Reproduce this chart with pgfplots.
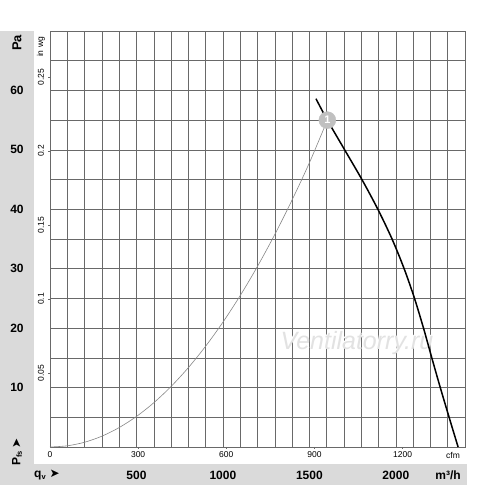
\documentclass[border=0pt]{standalone}
\usepackage{pgfplots}
\pgfplotsset{compat=1.18}
\usepackage{fontspec}
\setmainfont{Liberation Sans}
\newfontfamily\dejavu{DejaVu Sans}
\definecolor{band}{RGB}{218,218,218}
\definecolor{gridc}{RGB}{105,105,105}
\definecolor{syscurve}{RGB}{135,135,135}
\definecolor{pointc}{RGB}{192,192,192}
\definecolor{wm}{RGB}{226,226,226}
\newcommand{\fs}[1]{\fontsize{#1}{#1}\selectfont}
\begin{document}
\begin{tikzpicture}[x=1bp,y=1bp]
\useasboundingbox (0,0) rectangle (500,485);
% grey bands for the Pa and m3/h scales
\fill[band] (0,0) rectangle (34,454);
\fill[band] (0,0) rectangle (467,21);

\begin{axis}[
    at={(50bp,38bp)}, anchor=south west,
    scale only axis, width=415bp, height=416bp,
    xmin=0, xmax=2400, ymin=0, ymax=70,
    xtick={0,100,...,2400}, ytick={0,5,...,70},
    xticklabels={}, yticklabels={},
    major tick length=0pt,
    grid=major,
    major grid style={gridc, line width=0.5bp},
    axis line style={gridc, line width=0.5bp},
    clip=false,
  ]

  % watermark
  \node[font=\itshape\fs{25bp}, text=white] at ([xshift=-0.8bp,yshift=0.8bp]axis cs:1775,17.5) {Ventilatorry.ru};
  \node[font=\itshape\fs{25bp}, text=wm] at (axis cs:1775,17.5) {Ventilatorry.ru};

  % system curve
  \addplot[syscurve, line width=0.6bp, smooth] coordinates {
      (0,0) (100,0.2) (200,0.8) (300,1.82) (400,3.27) (500,5.14)
      (600,7.44) (700,10.18) (800,13.35) (900,16.96) (1000,21.0)
      (1100,25.48) (1200,30.4) (1300,35.76) (1400,41.57)
      (1500,47.82) (1604,55)
    };

  % fan curve
  \addplot[black, line width=1.5bp, smooth] coordinates {
      (1538,58.6) (1604,55) (1704,50) (1804,45) (1896,40)
      (1978,35) (2048,30) (2108,25) (2160,20) (2208,15)
      (2257,10) (2308,5) (2360,0)
    };

  % operating point 1
  \addplot[only marks, mark=*, mark size=8.5bp, color=pointc,
    nodes near coords={1},
    nodes near coords style={anchor=center, text=white, font=\bfseries\fs{11bp}},
  ] coordinates {(1604,55)};

  % Pa labels
  \pgfplotsinvokeforeach{10,20,30,40,50,60}{
    \node[font=\bfseries\fs{12bp}] at ([xshift=-33bp]axis cs:0,#1) {#1};
  }
  % m3/h labels
  \pgfplotsinvokeforeach{500,1000,1500,2000}{
    \node[font=\bfseries\fs{12bp}] at ([yshift=-28bp]axis cs:#1,0) {#1};
  }
  \node[font=\bfseries\fs{12bp}] at ([yshift=-28bp]axis cs:2302,0) {m³/h};

  % cfm scale
  \node[font=\fs{8.5bp}] at ([yshift=-8bp]axis cs:0,0) {0};
  \node[font=\fs{8.5bp}] at ([yshift=-8bp]axis cs:509.7,0) {300};
  \node[font=\fs{8.5bp}] at ([yshift=-8bp]axis cs:1019.4,0) {600};
  \node[font=\fs{8.5bp}] at ([yshift=-8bp]axis cs:1529.1,0) {900};
  \node[font=\fs{8.5bp}] at ([yshift=-8bp]axis cs:2038.8,0) {1200};
  \node[font=\fs{8.5bp}] at ([yshift=-8bp]axis cs:2331,0) {cfm};
  \draw[gridc, line width=0.5bp] (axis cs:509.7,0) -- ++(0,-2.5bp);
  \draw[gridc, line width=0.5bp] (axis cs:1019.4,0) -- ++(0,-2.5bp);
  \draw[gridc, line width=0.5bp] (axis cs:1529.1,0) -- ++(0,-2.5bp);
  \draw[gridc, line width=0.5bp] (axis cs:2038.8,0) -- ++(0,-2.5bp);

  % in wg scale
  \node[font=\fs{8.5bp}, rotate=90] at ([xshift=-9bp]axis cs:0,12.454) {0.05};
  \node[font=\fs{8.5bp}, rotate=90] at ([xshift=-9bp]axis cs:0,24.909) {0.1};
  \node[font=\fs{8.5bp}, rotate=90] at ([xshift=-9bp]axis cs:0,37.363) {0.15};
  \node[font=\fs{8.5bp}, rotate=90] at ([xshift=-9bp]axis cs:0,49.818) {0.2};
  \node[font=\fs{8.5bp}, rotate=90] at ([xshift=-9bp]axis cs:0,62.272) {0.25};
  \node[font=\fs{8.5bp}, rotate=90] at ([xshift=-9bp]axis cs:0,67.3) {in wg};
  \draw[gridc, line width=0.5bp] (axis cs:0,12.454) -- ++(-2.5bp,0);
  \draw[gridc, line width=0.5bp] (axis cs:0,24.909) -- ++(-2.5bp,0);
  \draw[gridc, line width=0.5bp] (axis cs:0,37.363) -- ++(-2.5bp,0);
  \draw[gridc, line width=0.5bp] (axis cs:0,49.818) -- ++(-2.5bp,0);
  \draw[gridc, line width=0.5bp] (axis cs:0,62.272) -- ++(-2.5bp,0);
\end{axis}

% axis names
\node[font=\bfseries\fs{13bp}, rotate=90] at (17,442) {Pa};
\node[font=\bfseries\fs{12bp}, rotate=90] at (17,33)
  {P\raisebox{-1.5bp}{\fs{7.5bp}fs}\hspace{3bp}{\dejavu\fs{12bp}➤}};
\node[font=\bfseries\fs{12bp}] at (47,10)
  {q\raisebox{-1.5bp}{\fs{7.5bp}v}\hspace{4bp}{\dejavu\fs{12bp}➤}};
\end{tikzpicture}
\end{document}
